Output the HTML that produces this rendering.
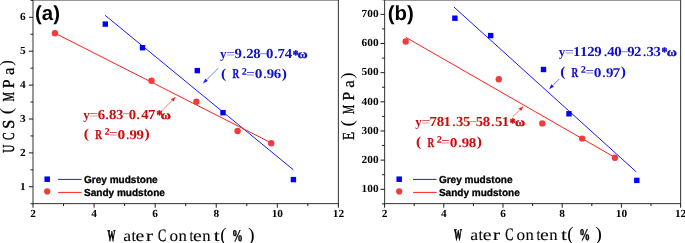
<!DOCTYPE html>
<html><head><meta charset="utf-8"><title>chart</title>
<style>html,body{margin:0;padding:0;background:#fff}svg{display:block}text{text-rendering:geometricPrecision}</style></head>
<body><svg width="685" height="243" viewBox="0 0 685 243">
<rect width="685" height="243" fill="#fff"/>
<rect x="33.00" y="0.00" width="305.40" height="203.60" fill="none" stroke="#444444" stroke-width="1.1"/>
<rect x="384.60" y="0.00" width="296.00" height="203.60" fill="none" stroke="#444444" stroke-width="1.1"/>
<line x1="33.00" y1="203.60" x2="33.00" y2="207.70" stroke="#1a1a1a" stroke-width="1.0" />
<text transform="matrix(1.0500 0 0 1 33.00 217.40)" font-family='"Liberation Serif", serif' font-size="10.8" font-weight="bold" fill="#000" text-anchor="middle" >2</text>
<line x1="63.54" y1="203.60" x2="63.54" y2="206.10" stroke="#1a1a1a" stroke-width="1.0" />
<line x1="94.08" y1="203.60" x2="94.08" y2="207.70" stroke="#1a1a1a" stroke-width="1.0" />
<text transform="matrix(1.0500 0 0 1 94.08 217.40)" font-family='"Liberation Serif", serif' font-size="10.8" font-weight="bold" fill="#000" text-anchor="middle" >4</text>
<line x1="124.62" y1="203.60" x2="124.62" y2="206.10" stroke="#1a1a1a" stroke-width="1.0" />
<line x1="155.16" y1="203.60" x2="155.16" y2="207.70" stroke="#1a1a1a" stroke-width="1.0" />
<text transform="matrix(1.0500 0 0 1 155.16 217.40)" font-family='"Liberation Serif", serif' font-size="10.8" font-weight="bold" fill="#000" text-anchor="middle" >6</text>
<line x1="185.70" y1="203.60" x2="185.70" y2="206.10" stroke="#1a1a1a" stroke-width="1.0" />
<line x1="216.24" y1="203.60" x2="216.24" y2="207.70" stroke="#1a1a1a" stroke-width="1.0" />
<text transform="matrix(1.0500 0 0 1 216.24 217.40)" font-family='"Liberation Serif", serif' font-size="10.8" font-weight="bold" fill="#000" text-anchor="middle" >8</text>
<line x1="246.78" y1="203.60" x2="246.78" y2="206.10" stroke="#1a1a1a" stroke-width="1.0" />
<line x1="277.32" y1="203.60" x2="277.32" y2="207.70" stroke="#1a1a1a" stroke-width="1.0" />
<text transform="matrix(1.0500 0 0 1 277.32 217.40)" font-family='"Liberation Serif", serif' font-size="10.8" font-weight="bold" fill="#000" text-anchor="middle" >10</text>
<line x1="307.86" y1="203.60" x2="307.86" y2="206.10" stroke="#1a1a1a" stroke-width="1.0" />
<line x1="338.40" y1="203.60" x2="338.40" y2="207.70" stroke="#1a1a1a" stroke-width="1.0" />
<text transform="matrix(1.0500 0 0 1 338.40 217.40)" font-family='"Liberation Serif", serif' font-size="10.8" font-weight="bold" fill="#000" text-anchor="middle" >12</text>
<line x1="384.60" y1="203.60" x2="384.60" y2="207.70" stroke="#1a1a1a" stroke-width="1.0" />
<text transform="matrix(1.0500 0 0 1 384.60 217.40)" font-family='"Liberation Serif", serif' font-size="10.8" font-weight="bold" fill="#000" text-anchor="middle" >2</text>
<line x1="414.20" y1="203.60" x2="414.20" y2="206.10" stroke="#1a1a1a" stroke-width="1.0" />
<line x1="443.80" y1="203.60" x2="443.80" y2="207.70" stroke="#1a1a1a" stroke-width="1.0" />
<text transform="matrix(1.0500 0 0 1 443.80 217.40)" font-family='"Liberation Serif", serif' font-size="10.8" font-weight="bold" fill="#000" text-anchor="middle" >4</text>
<line x1="473.40" y1="203.60" x2="473.40" y2="206.10" stroke="#1a1a1a" stroke-width="1.0" />
<line x1="503.00" y1="203.60" x2="503.00" y2="207.70" stroke="#1a1a1a" stroke-width="1.0" />
<text transform="matrix(1.0500 0 0 1 503.00 217.40)" font-family='"Liberation Serif", serif' font-size="10.8" font-weight="bold" fill="#000" text-anchor="middle" >6</text>
<line x1="532.60" y1="203.60" x2="532.60" y2="206.10" stroke="#1a1a1a" stroke-width="1.0" />
<line x1="562.20" y1="203.60" x2="562.20" y2="207.70" stroke="#1a1a1a" stroke-width="1.0" />
<text transform="matrix(1.0500 0 0 1 562.20 217.40)" font-family='"Liberation Serif", serif' font-size="10.8" font-weight="bold" fill="#000" text-anchor="middle" >8</text>
<line x1="591.80" y1="203.60" x2="591.80" y2="206.10" stroke="#1a1a1a" stroke-width="1.0" />
<line x1="621.40" y1="203.60" x2="621.40" y2="207.70" stroke="#1a1a1a" stroke-width="1.0" />
<text transform="matrix(1.0500 0 0 1 621.40 217.40)" font-family='"Liberation Serif", serif' font-size="10.8" font-weight="bold" fill="#000" text-anchor="middle" >10</text>
<line x1="651.00" y1="203.60" x2="651.00" y2="206.10" stroke="#1a1a1a" stroke-width="1.0" />
<line x1="680.60" y1="203.60" x2="680.60" y2="207.70" stroke="#1a1a1a" stroke-width="1.0" />
<text transform="matrix(1.0500 0 0 1 680.60 217.40)" font-family='"Liberation Serif", serif' font-size="10.8" font-weight="bold" fill="#000" text-anchor="middle" >12</text>
<line x1="30.50" y1="203.75" x2="33.00" y2="203.75" stroke="#1a1a1a" stroke-width="1.0" />
<line x1="28.90" y1="186.80" x2="33.00" y2="186.80" stroke="#1a1a1a" stroke-width="1.0" />
<text transform="matrix(1.0500 0 0 1 25.60 189.50)" font-family='"Liberation Serif", serif' font-size="10.8" font-weight="bold" fill="#000" text-anchor="end" >1</text>
<line x1="30.50" y1="169.85" x2="33.00" y2="169.85" stroke="#1a1a1a" stroke-width="1.0" />
<line x1="28.90" y1="152.90" x2="33.00" y2="152.90" stroke="#1a1a1a" stroke-width="1.0" />
<text transform="matrix(1.0500 0 0 1 25.60 155.60)" font-family='"Liberation Serif", serif' font-size="10.8" font-weight="bold" fill="#000" text-anchor="end" >2</text>
<line x1="30.50" y1="135.95" x2="33.00" y2="135.95" stroke="#1a1a1a" stroke-width="1.0" />
<line x1="28.90" y1="119.00" x2="33.00" y2="119.00" stroke="#1a1a1a" stroke-width="1.0" />
<text transform="matrix(1.0500 0 0 1 25.60 121.70)" font-family='"Liberation Serif", serif' font-size="10.8" font-weight="bold" fill="#000" text-anchor="end" >3</text>
<line x1="30.50" y1="102.05" x2="33.00" y2="102.05" stroke="#1a1a1a" stroke-width="1.0" />
<line x1="28.90" y1="85.10" x2="33.00" y2="85.10" stroke="#1a1a1a" stroke-width="1.0" />
<text transform="matrix(1.0500 0 0 1 25.60 87.80)" font-family='"Liberation Serif", serif' font-size="10.8" font-weight="bold" fill="#000" text-anchor="end" >4</text>
<line x1="30.50" y1="68.15" x2="33.00" y2="68.15" stroke="#1a1a1a" stroke-width="1.0" />
<line x1="28.90" y1="51.20" x2="33.00" y2="51.20" stroke="#1a1a1a" stroke-width="1.0" />
<text transform="matrix(1.0500 0 0 1 25.60 53.90)" font-family='"Liberation Serif", serif' font-size="10.8" font-weight="bold" fill="#000" text-anchor="end" >5</text>
<line x1="30.50" y1="34.25" x2="33.00" y2="34.25" stroke="#1a1a1a" stroke-width="1.0" />
<line x1="28.90" y1="17.30" x2="33.00" y2="17.30" stroke="#1a1a1a" stroke-width="1.0" />
<text transform="matrix(1.0500 0 0 1 25.60 20.00)" font-family='"Liberation Serif", serif' font-size="10.8" font-weight="bold" fill="#000" text-anchor="end" >6</text>
<line x1="30.50" y1="0.35" x2="33.00" y2="0.35" stroke="#1a1a1a" stroke-width="1.0" />
<line x1="382.10" y1="203.88" x2="384.60" y2="203.88" stroke="#1a1a1a" stroke-width="1.0" />
<line x1="380.50" y1="189.30" x2="384.60" y2="189.30" stroke="#1a1a1a" stroke-width="1.0" />
<text transform="matrix(1.0500 0 0 1 378.60 192.10)" font-family='"Liberation Serif", serif' font-size="10.8" font-weight="bold" fill="#000" text-anchor="end" >100</text>
<line x1="382.10" y1="174.72" x2="384.60" y2="174.72" stroke="#1a1a1a" stroke-width="1.0" />
<line x1="380.50" y1="160.14" x2="384.60" y2="160.14" stroke="#1a1a1a" stroke-width="1.0" />
<text transform="matrix(1.0500 0 0 1 378.60 162.94)" font-family='"Liberation Serif", serif' font-size="10.8" font-weight="bold" fill="#000" text-anchor="end" >200</text>
<line x1="382.10" y1="145.56" x2="384.60" y2="145.56" stroke="#1a1a1a" stroke-width="1.0" />
<line x1="380.50" y1="130.98" x2="384.60" y2="130.98" stroke="#1a1a1a" stroke-width="1.0" />
<text transform="matrix(1.0500 0 0 1 378.60 133.78)" font-family='"Liberation Serif", serif' font-size="10.8" font-weight="bold" fill="#000" text-anchor="end" >300</text>
<line x1="382.10" y1="116.41" x2="384.60" y2="116.41" stroke="#1a1a1a" stroke-width="1.0" />
<line x1="380.50" y1="101.83" x2="384.60" y2="101.83" stroke="#1a1a1a" stroke-width="1.0" />
<text transform="matrix(1.0500 0 0 1 378.60 104.63)" font-family='"Liberation Serif", serif' font-size="10.8" font-weight="bold" fill="#000" text-anchor="end" >400</text>
<line x1="382.10" y1="87.25" x2="384.60" y2="87.25" stroke="#1a1a1a" stroke-width="1.0" />
<line x1="380.50" y1="72.67" x2="384.60" y2="72.67" stroke="#1a1a1a" stroke-width="1.0" />
<text transform="matrix(1.0500 0 0 1 378.60 75.47)" font-family='"Liberation Serif", serif' font-size="10.8" font-weight="bold" fill="#000" text-anchor="end" >500</text>
<line x1="382.10" y1="58.09" x2="384.60" y2="58.09" stroke="#1a1a1a" stroke-width="1.0" />
<line x1="380.50" y1="43.51" x2="384.60" y2="43.51" stroke="#1a1a1a" stroke-width="1.0" />
<text transform="matrix(1.0500 0 0 1 378.60 46.31)" font-family='"Liberation Serif", serif' font-size="10.8" font-weight="bold" fill="#000" text-anchor="end" >600</text>
<line x1="382.10" y1="28.93" x2="384.60" y2="28.93" stroke="#1a1a1a" stroke-width="1.0" />
<line x1="380.50" y1="14.35" x2="384.60" y2="14.35" stroke="#1a1a1a" stroke-width="1.0" />
<text transform="matrix(1.0500 0 0 1 378.60 17.15)" font-family='"Liberation Serif", serif' font-size="10.8" font-weight="bold" fill="#000" text-anchor="end" >700</text>
<line x1="382.10" y1="-0.23" x2="384.60" y2="-0.23" stroke="#1a1a1a" stroke-width="1.0" />
<line x1="105.10" y1="15.30" x2="293.40" y2="169.80" stroke="#1a1aff" stroke-width="1.0" />
<line x1="55.00" y1="33.20" x2="271.00" y2="142.80" stroke="#ff2020" stroke-width="1.0" />
<rect x="102.60" y="21.40" width="5.4" height="5.4" fill="#0000ff"/>
<rect x="139.80" y="45.00" width="5.4" height="5.4" fill="#0000ff"/>
<rect x="194.60" y="67.90" width="5.4" height="5.4" fill="#0000ff"/>
<rect x="220.30" y="110.00" width="5.4" height="5.4" fill="#0000ff"/>
<rect x="290.70" y="176.90" width="5.4" height="5.4" fill="#0000ff"/>
<circle cx="55.00" cy="33.30" r="3.2" fill="#f03c3c"/>
<circle cx="151.50" cy="80.70" r="3.2" fill="#f03c3c"/>
<circle cx="196.40" cy="101.80" r="3.2" fill="#f03c3c"/>
<circle cx="237.60" cy="131.00" r="3.2" fill="#f03c3c"/>
<circle cx="271.20" cy="143.20" r="3.2" fill="#f03c3c"/>
<line x1="454.00" y1="7.10" x2="636.20" y2="171.80" stroke="#1a1aff" stroke-width="1.0" />
<line x1="405.90" y1="37.40" x2="615.00" y2="157.50" stroke="#ff2020" stroke-width="1.0" />
<rect x="452.20" y="15.50" width="5.4" height="5.4" fill="#0000ff"/>
<rect x="488.00" y="32.90" width="5.4" height="5.4" fill="#0000ff"/>
<rect x="540.80" y="66.80" width="5.4" height="5.4" fill="#0000ff"/>
<rect x="566.30" y="111.10" width="5.4" height="5.4" fill="#0000ff"/>
<rect x="634.10" y="177.70" width="5.4" height="5.4" fill="#0000ff"/>
<circle cx="405.70" cy="41.50" r="3.2" fill="#f03c3c"/>
<circle cx="498.80" cy="79.20" r="3.2" fill="#f03c3c"/>
<circle cx="542.30" cy="123.40" r="3.2" fill="#f03c3c"/>
<circle cx="582.20" cy="138.60" r="3.2" fill="#f03c3c"/>
<circle cx="614.90" cy="157.70" r="3.2" fill="#f03c3c"/>
<line x1="218.40" y1="68.10" x2="206.59" y2="79.83" stroke="#1a1aff" stroke-width="0.6" />
<polygon points="202.90,83.50 205.36,78.59 207.82,81.08" fill="#1a1aff"/>
<line x1="161.00" y1="111.50" x2="172.11" y2="100.46" stroke="#ff2020" stroke-width="0.6" />
<polygon points="175.80,96.80 173.34,101.71 170.88,99.22" fill="#ff2020"/>
<line x1="559.30" y1="78.90" x2="552.66" y2="85.61" stroke="#1a1aff" stroke-width="0.6" />
<polygon points="549.00,89.30 551.42,84.37 553.90,86.84" fill="#1a1aff"/>
<line x1="512.70" y1="116.80" x2="519.87" y2="109.83" stroke="#ff2020" stroke-width="0.6" />
<polygon points="523.60,106.20 521.09,111.08 518.65,108.57" fill="#ff2020"/>
<rect x="44.45" y="176.45" width="5.5" height="5.5" fill="#0000ff"/>
<circle cx="47.20" cy="191.40" r="3.1" fill="#f03c3c"/>
<line x1="58.10" y1="179.40" x2="81.70" y2="179.40" stroke="#1a1aff" stroke-width="1.0" />
<line x1="58.10" y1="192.40" x2="81.70" y2="192.40" stroke="#ff2020" stroke-width="1.0" />
<text transform="matrix(0.9850 0 0 1 84.00 182.60)" font-family='"Liberation Sans", sans-serif' font-size="10.2" font-weight="bold" fill="#000" text-anchor="start" stroke="#000" stroke-width="0.3">Grey mudstone</text>
<text transform="matrix(0.9850 0 0 1 84.00 195.60)" font-family='"Liberation Sans", sans-serif' font-size="10.2" font-weight="bold" fill="#000" text-anchor="start" stroke="#000" stroke-width="0.3">Sandy mudstone</text>
<rect x="396.45" y="176.45" width="5.5" height="5.5" fill="#0000ff"/>
<circle cx="399.20" cy="191.40" r="3.1" fill="#f03c3c"/>
<line x1="413.00" y1="179.40" x2="436.60" y2="179.40" stroke="#1a1aff" stroke-width="1.0" />
<line x1="413.00" y1="192.40" x2="436.60" y2="192.40" stroke="#ff2020" stroke-width="1.0" />
<text transform="matrix(0.9850 0 0 1 438.90 182.60)" font-family='"Liberation Sans", sans-serif' font-size="10.2" font-weight="bold" fill="#000" text-anchor="start" stroke="#000" stroke-width="0.3">Grey mudstone</text>
<text transform="matrix(0.9850 0 0 1 438.90 195.60)" font-family='"Liberation Sans", sans-serif' font-size="10.2" font-weight="bold" fill="#000" text-anchor="start" stroke="#000" stroke-width="0.3">Sandy mudstone</text>
<text transform="matrix(1.0000 0 0 1 35.00 19.90)" font-family='"Liberation Sans", sans-serif' font-size="20.4" font-weight="bold" fill="#000" text-anchor="start" >(a)</text>
<text transform="matrix(1.0000 0 0 1 387.80 19.90)" font-family='"Liberation Sans", sans-serif' font-size="20.4" font-weight="bold" fill="#000" text-anchor="start" >(b)</text>
<g aria-label="y=9.28-0.74*ω"><text transform="matrix(1.0000 0 0 1.0000 219.97 58.20)" font-family='"Liberation Serif", serif' font-size="13.0" font-weight="bold" fill="#1010c8" >y</text><text transform="matrix(1.1987 0 0 1.0000 226.15 58.20)" font-family='"Liberation Serif", serif' font-size="13.0" font-weight="normal" fill="#1010c8" fill-opacity="0.85">=</text><text transform="matrix(1.0700 0 0 1.0000 234.57 58.20)" font-family='"Liberation Serif", serif' font-size="13.8" font-weight="bold" fill="#1010c8" >9</text><text transform="matrix(1.0700 0 0 1.0000 242.65 58.20)" font-family='"Liberation Serif", serif' font-size="12.0" font-weight="bold" fill="#1010c8" >.</text><text transform="matrix(1.0700 0 0 1.0000 246.22 58.20)" font-family='"Liberation Serif", serif' font-size="13.8" font-weight="bold" fill="#1010c8" >2</text><text transform="matrix(1.0700 0 0 1.0000 253.21 58.20)" font-family='"Liberation Serif", serif' font-size="13.8" font-weight="bold" fill="#1010c8" >8</text><text transform="matrix(1.8952 0 0 0.7200 259.19 56.00)" font-family='"Liberation Serif", serif' font-size="13.0" font-weight="normal" fill="#1010c8" fill-opacity="0.8">-</text><text transform="matrix(1.0700 0 0 1.0000 266.01 58.20)" font-family='"Liberation Serif", serif' font-size="13.8" font-weight="bold" fill="#1010c8" >0</text><text transform="matrix(1.0700 0 0 1.0000 274.14 58.20)" font-family='"Liberation Serif", serif' font-size="12.0" font-weight="bold" fill="#1010c8" >.</text><text transform="matrix(1.0700 0 0 1.0000 277.47 58.20)" font-family='"Liberation Serif", serif' font-size="13.8" font-weight="bold" fill="#1010c8" >7</text><text transform="matrix(1.0700 0 0 1.0000 284.74 58.20)" font-family='"Liberation Serif", serif' font-size="13.8" font-weight="bold" fill="#1010c8" >4</text><text transform="matrix(0.9023 0 0 1.0000 292.87 58.80)" font-family='"Liberation Serif", serif' font-size="13.0" font-weight="bold" fill="#1010c8" stroke="#1010c8" stroke-width="0.5">*</text><text transform="matrix(1.1532 0 0 1.0000 297.44 58.20)" font-family='"Liberation Serif", serif' font-size="12.0" font-weight="bold" fill="#1010c8" stroke="#1010c8" stroke-width="0.4">ω</text></g>
<g aria-label="( R²=0.96)"><text transform="matrix(1.1368 0 0 1.0000 221.12 77.60)" font-family='"Liberation Serif", serif' font-size="13.7" font-weight="bold" fill="#1010c8" >(</text><text font-size="1" fill="none"> </text><text transform="matrix(0.6748 0 0 1.0000 232.44 78.30)" font-family='"Liberation Serif", serif' font-size="13.7" font-weight="bold" fill="#1010c8" stroke="#1010c8" stroke-width="0.3">R</text><text transform="matrix(1.0402 0 0 1.0000 241.73 78.80)" font-family='"Liberation Serif", serif' font-size="16.6" font-weight="bold" fill="#1010c8" >²</text><text transform="matrix(1.1572 0 0 1.0000 246.35 77.60)" font-family='"Liberation Serif", serif' font-size="13.0" font-weight="normal" fill="#1010c8" >=</text><text transform="matrix(1.1445 0 0 1.0000 254.72 78.30)" font-family='"Liberation Serif", serif' font-size="13.4" font-weight="bold" fill="#1010c8" >0</text><text transform="matrix(1.0192 0 0 1.0000 263.48 78.30)" font-family='"Liberation Serif", serif' font-size="11.5" font-weight="bold" fill="#1010c8" >.</text><text transform="matrix(1.1112 0 0 1.0000 266.79 78.30)" font-family='"Liberation Serif", serif' font-size="13.4" font-weight="bold" fill="#1010c8" >9</text><text transform="matrix(1.1112 0 0 1.0000 273.69 78.30)" font-family='"Liberation Serif", serif' font-size="13.4" font-weight="bold" fill="#1010c8" >6</text><text transform="matrix(1.1368 0 0 1.0000 281.70 77.60)" font-family='"Liberation Serif", serif' font-size="13.7" font-weight="bold" fill="#1010c8" >)</text></g>
<g aria-label="y=6.83-0.47*ω"><text transform="matrix(1.0000 0 0 1.0000 83.17 118.60)" font-family='"Liberation Serif", serif' font-size="13.0" font-weight="bold" fill="#cc0a0a" >y</text><text transform="matrix(1.1987 0 0 1.0000 89.35 118.60)" font-family='"Liberation Serif", serif' font-size="13.0" font-weight="normal" fill="#cc0a0a" fill-opacity="0.85">=</text><text transform="matrix(1.0700 0 0 1.0000 97.67 118.60)" font-family='"Liberation Serif", serif' font-size="13.8" font-weight="bold" fill="#cc0a0a" >6</text><text transform="matrix(1.0700 0 0 1.0000 105.44 118.60)" font-family='"Liberation Serif", serif' font-size="12.0" font-weight="bold" fill="#cc0a0a" >.</text><text transform="matrix(1.0700 0 0 1.0000 109.01 118.60)" font-family='"Liberation Serif", serif' font-size="13.8" font-weight="bold" fill="#cc0a0a" >8</text><text transform="matrix(1.0700 0 0 1.0000 115.98 118.60)" font-family='"Liberation Serif", serif' font-size="13.8" font-weight="bold" fill="#cc0a0a" >3</text><text transform="matrix(1.8952 0 0 0.7200 121.99 116.40)" font-family='"Liberation Serif", serif' font-size="13.0" font-weight="normal" fill="#cc0a0a" fill-opacity="0.8">-</text><text transform="matrix(1.0700 0 0 1.0000 128.81 118.60)" font-family='"Liberation Serif", serif' font-size="13.8" font-weight="bold" fill="#cc0a0a" >0</text><text transform="matrix(1.0700 0 0 1.0000 136.55 118.60)" font-family='"Liberation Serif", serif' font-size="12.0" font-weight="bold" fill="#cc0a0a" >.</text><text transform="matrix(1.0700 0 0 1.0000 141.34 118.60)" font-family='"Liberation Serif", serif' font-size="13.8" font-weight="bold" fill="#cc0a0a" >4</text><text transform="matrix(1.0700 0 0 1.0000 148.07 118.60)" font-family='"Liberation Serif", serif' font-size="13.8" font-weight="bold" fill="#cc0a0a" >7</text><text transform="matrix(0.9023 0 0 1.0000 156.47 119.20)" font-family='"Liberation Serif", serif' font-size="13.0" font-weight="bold" fill="#cc0a0a" stroke="#cc0a0a" stroke-width="0.5">*</text><text transform="matrix(1.1532 0 0 1.0000 160.84 118.60)" font-family='"Liberation Serif", serif' font-size="12.0" font-weight="bold" fill="#cc0a0a" stroke="#cc0a0a" stroke-width="0.4">ω</text></g>
<g aria-label="( R²=0.99)"><text transform="matrix(1.1368 0 0 1.0000 83.82 138.00)" font-family='"Liberation Serif", serif' font-size="13.7" font-weight="bold" fill="#cc0a0a" >(</text><text font-size="1" fill="none"> </text><text transform="matrix(0.6748 0 0 1.0000 95.14 138.70)" font-family='"Liberation Serif", serif' font-size="13.7" font-weight="bold" fill="#cc0a0a" stroke="#cc0a0a" stroke-width="0.3">R</text><text transform="matrix(1.0402 0 0 1.0000 104.43 139.20)" font-family='"Liberation Serif", serif' font-size="16.6" font-weight="bold" fill="#cc0a0a" >²</text><text transform="matrix(1.1572 0 0 1.0000 109.05 138.00)" font-family='"Liberation Serif", serif' font-size="13.0" font-weight="normal" fill="#cc0a0a" >=</text><text transform="matrix(1.1445 0 0 1.0000 117.42 138.70)" font-family='"Liberation Serif", serif' font-size="13.4" font-weight="bold" fill="#cc0a0a" >0</text><text transform="matrix(1.0192 0 0 1.0000 126.18 138.70)" font-family='"Liberation Serif", serif' font-size="11.5" font-weight="bold" fill="#cc0a0a" >.</text><text transform="matrix(1.1112 0 0 1.0000 129.49 138.70)" font-family='"Liberation Serif", serif' font-size="13.4" font-weight="bold" fill="#cc0a0a" >9</text><text transform="matrix(1.1112 0 0 1.0000 136.49 138.70)" font-family='"Liberation Serif", serif' font-size="13.4" font-weight="bold" fill="#cc0a0a" >9</text><text transform="matrix(1.1368 0 0 1.0000 144.40 138.00)" font-family='"Liberation Serif", serif' font-size="13.7" font-weight="bold" fill="#cc0a0a" >)</text></g>
<g aria-label="y=1129.40-92.33*ω"><text transform="matrix(1.0000 0 0 1.0000 558.77 55.80)" font-family='"Liberation Serif", serif' font-size="13.0" font-weight="bold" fill="#1010c8" >y</text><text transform="matrix(1.1987 0 0 1.0000 564.95 55.80)" font-family='"Liberation Serif", serif' font-size="13.0" font-weight="normal" fill="#1010c8" fill-opacity="0.85">=</text><text transform="matrix(1.0700 0 0 1.0000 573.10 55.80)" font-family='"Liberation Serif", serif' font-size="13.8" font-weight="bold" fill="#1010c8" >1</text><text transform="matrix(1.0700 0 0 1.0000 580.10 55.80)" font-family='"Liberation Serif", serif' font-size="13.8" font-weight="bold" fill="#1010c8" >1</text><text transform="matrix(1.0700 0 0 1.0000 587.32 55.80)" font-family='"Liberation Serif", serif' font-size="13.8" font-weight="bold" fill="#1010c8" >2</text><text transform="matrix(1.0700 0 0 1.0000 594.37 55.80)" font-family='"Liberation Serif", serif' font-size="13.8" font-weight="bold" fill="#1010c8" >9</text><text transform="matrix(1.0700 0 0 1.0000 603.89 55.80)" font-family='"Liberation Serif", serif' font-size="12.0" font-weight="bold" fill="#1010c8" >.</text><text transform="matrix(1.0700 0 0 1.0000 607.34 55.80)" font-family='"Liberation Serif", serif' font-size="13.8" font-weight="bold" fill="#1010c8" >4</text><text transform="matrix(1.0700 0 0 1.0000 614.31 55.80)" font-family='"Liberation Serif", serif' font-size="13.8" font-weight="bold" fill="#1010c8" >0</text><text transform="matrix(1.8952 0 0 0.7200 620.29 53.60)" font-family='"Liberation Serif", serif' font-size="13.0" font-weight="normal" fill="#1010c8" fill-opacity="0.8">-</text><text transform="matrix(1.0700 0 0 1.0000 627.17 55.80)" font-family='"Liberation Serif", serif' font-size="13.8" font-weight="bold" fill="#1010c8" >9</text><text transform="matrix(1.0700 0 0 1.0000 634.12 55.80)" font-family='"Liberation Serif", serif' font-size="13.8" font-weight="bold" fill="#1010c8" >2</text><text transform="matrix(1.0700 0 0 1.0000 642.99 55.80)" font-family='"Liberation Serif", serif' font-size="12.0" font-weight="bold" fill="#1010c8" >.</text><text transform="matrix(1.0700 0 0 1.0000 646.38 55.80)" font-family='"Liberation Serif", serif' font-size="13.8" font-weight="bold" fill="#1010c8" >3</text><text transform="matrix(1.0700 0 0 1.0000 653.38 55.80)" font-family='"Liberation Serif", serif' font-size="13.8" font-weight="bold" fill="#1010c8" >3</text><text transform="matrix(0.9023 0 0 1.0000 661.57 56.40)" font-family='"Liberation Serif", serif' font-size="13.0" font-weight="bold" fill="#1010c8" stroke="#1010c8" stroke-width="0.5">*</text><text transform="matrix(1.1532 0 0 1.0000 666.74 55.80)" font-family='"Liberation Serif", serif' font-size="12.0" font-weight="bold" fill="#1010c8" stroke="#1010c8" stroke-width="0.4">ω</text></g>
<g aria-label="( R²=0.97)"><text transform="matrix(1.1368 0 0 1.0000 560.22 76.20)" font-family='"Liberation Serif", serif' font-size="13.7" font-weight="bold" fill="#1010c8" >(</text><text font-size="1" fill="none"> </text><text transform="matrix(0.6748 0 0 1.0000 571.54 76.90)" font-family='"Liberation Serif", serif' font-size="13.7" font-weight="bold" fill="#1010c8" stroke="#1010c8" stroke-width="0.3">R</text><text transform="matrix(1.0402 0 0 1.0000 580.83 77.40)" font-family='"Liberation Serif", serif' font-size="16.6" font-weight="bold" fill="#1010c8" >²</text><text transform="matrix(1.1572 0 0 1.0000 585.45 76.20)" font-family='"Liberation Serif", serif' font-size="13.0" font-weight="normal" fill="#1010c8" >=</text><text transform="matrix(1.1445 0 0 1.0000 593.82 76.90)" font-family='"Liberation Serif", serif' font-size="13.4" font-weight="bold" fill="#1010c8" >0</text><text transform="matrix(1.0192 0 0 1.0000 602.58 76.90)" font-family='"Liberation Serif", serif' font-size="11.5" font-weight="bold" fill="#1010c8" >.</text><text transform="matrix(1.1112 0 0 1.0000 605.89 76.90)" font-family='"Liberation Serif", serif' font-size="13.4" font-weight="bold" fill="#1010c8" >9</text><text transform="matrix(1.1592 0 0 1.0000 612.41 76.90)" font-family='"Liberation Serif", serif' font-size="13.4" font-weight="bold" fill="#1010c8" >7</text><text transform="matrix(1.1368 0 0 1.0000 620.80 76.20)" font-family='"Liberation Serif", serif' font-size="13.7" font-weight="bold" fill="#1010c8" >)</text></g>
<g aria-label="y=781.35-58.51*ω"><text transform="matrix(1.0000 0 0 1.0000 415.27 126.30)" font-family='"Liberation Serif", serif' font-size="13.0" font-weight="bold" fill="#cc0a0a" >y</text><text transform="matrix(1.1987 0 0 1.0000 421.45 126.30)" font-family='"Liberation Serif", serif' font-size="13.0" font-weight="normal" fill="#cc0a0a" fill-opacity="0.85">=</text><text transform="matrix(1.0700 0 0 1.0000 429.57 126.30)" font-family='"Liberation Serif", serif' font-size="13.8" font-weight="bold" fill="#cc0a0a" >7</text><text transform="matrix(1.0700 0 0 1.0000 436.81 126.30)" font-family='"Liberation Serif", serif' font-size="13.8" font-weight="bold" fill="#cc0a0a" >8</text><text transform="matrix(1.0700 0 0 1.0000 443.60 126.30)" font-family='"Liberation Serif", serif' font-size="13.8" font-weight="bold" fill="#cc0a0a" >1</text><text transform="matrix(1.0700 0 0 1.0000 452.30 126.30)" font-family='"Liberation Serif", serif' font-size="12.0" font-weight="bold" fill="#cc0a0a" >.</text><text transform="matrix(1.0700 0 0 1.0000 455.98 126.30)" font-family='"Liberation Serif", serif' font-size="13.8" font-weight="bold" fill="#cc0a0a" >3</text><text transform="matrix(1.0700 0 0 1.0000 462.98 126.30)" font-family='"Liberation Serif", serif' font-size="13.8" font-weight="bold" fill="#cc0a0a" >5</text><text transform="matrix(1.8952 0 0 0.7200 468.99 124.10)" font-family='"Liberation Serif", serif' font-size="13.0" font-weight="normal" fill="#cc0a0a" fill-opacity="0.8">-</text><text transform="matrix(1.0700 0 0 1.0000 475.78 126.30)" font-family='"Liberation Serif", serif' font-size="13.8" font-weight="bold" fill="#cc0a0a" >5</text><text transform="matrix(1.0700 0 0 1.0000 482.81 126.30)" font-family='"Liberation Serif", serif' font-size="13.8" font-weight="bold" fill="#cc0a0a" >8</text><text transform="matrix(1.0700 0 0 1.0000 491.30 126.30)" font-family='"Liberation Serif", serif' font-size="12.0" font-weight="bold" fill="#cc0a0a" >.</text><text transform="matrix(1.0700 0 0 1.0000 494.98 126.30)" font-family='"Liberation Serif", serif' font-size="13.8" font-weight="bold" fill="#cc0a0a" >5</text><text transform="matrix(1.0700 0 0 1.0000 501.80 126.30)" font-family='"Liberation Serif", serif' font-size="13.8" font-weight="bold" fill="#cc0a0a" >1</text><text transform="matrix(0.9023 0 0 1.0000 509.77 126.90)" font-family='"Liberation Serif", serif' font-size="13.0" font-weight="bold" fill="#cc0a0a" stroke="#cc0a0a" stroke-width="0.5">*</text><text transform="matrix(1.1532 0 0 1.0000 514.94 126.30)" font-family='"Liberation Serif", serif' font-size="12.0" font-weight="bold" fill="#cc0a0a" stroke="#cc0a0a" stroke-width="0.4">ω</text></g>
<g aria-label="( R²=0.98)"><text transform="matrix(1.1368 0 0 1.0000 416.12 146.20)" font-family='"Liberation Serif", serif' font-size="13.7" font-weight="bold" fill="#cc0a0a" >(</text><text font-size="1" fill="none"> </text><text transform="matrix(0.6748 0 0 1.0000 427.44 146.90)" font-family='"Liberation Serif", serif' font-size="13.7" font-weight="bold" fill="#cc0a0a" stroke="#cc0a0a" stroke-width="0.3">R</text><text transform="matrix(1.0402 0 0 1.0000 436.73 147.40)" font-family='"Liberation Serif", serif' font-size="16.6" font-weight="bold" fill="#cc0a0a" >²</text><text transform="matrix(1.1572 0 0 1.0000 441.35 146.20)" font-family='"Liberation Serif", serif' font-size="13.0" font-weight="normal" fill="#cc0a0a" >=</text><text transform="matrix(1.1445 0 0 1.0000 449.72 146.90)" font-family='"Liberation Serif", serif' font-size="13.4" font-weight="bold" fill="#cc0a0a" >0</text><text transform="matrix(1.0192 0 0 1.0000 458.48 146.90)" font-family='"Liberation Serif", serif' font-size="11.5" font-weight="bold" fill="#cc0a0a" >.</text><text transform="matrix(1.1112 0 0 1.0000 461.79 146.90)" font-family='"Liberation Serif", serif' font-size="13.4" font-weight="bold" fill="#cc0a0a" >9</text><text transform="matrix(1.1187 0 0 1.0000 468.70 146.90)" font-family='"Liberation Serif", serif' font-size="13.4" font-weight="bold" fill="#cc0a0a" >8</text><text transform="matrix(1.1368 0 0 1.0000 476.70 146.20)" font-family='"Liberation Serif", serif' font-size="13.7" font-weight="bold" fill="#cc0a0a" >)</text></g>
<g aria-label="WaterContent(%)"><text transform="matrix(0.4835 0 0 1.0000 107.54 240.60)" font-family='"Liberation Serif", serif' font-size="16.2" font-weight="bold" fill="#000" stroke="#000" stroke-width="0.7">W</text><text transform="matrix(1.0939 0 0 1.0000 123.13 240.60)" font-family='"Liberation Serif", serif' font-size="16.2" font-weight="normal" fill="#000" stroke="#000" stroke-width="0.06">a</text><text transform="matrix(0.9888 0 0 1.0000 131.49 240.60)" font-family='"Liberation Serif", serif' font-size="16.2" font-weight="normal" fill="#000" stroke="#000" stroke-width="0.06">t</text><text transform="matrix(1.2175 0 0 1.0000 135.58 240.60)" font-family='"Liberation Serif", serif' font-size="16.2" font-weight="normal" fill="#000" stroke="#000" stroke-width="0.06">e</text><text transform="matrix(1.3596 0 0 1.0000 145.71 240.60)" font-family='"Liberation Serif", serif' font-size="16.2" font-weight="normal" fill="#000" stroke="#000" stroke-width="0.06">r</text><text transform="matrix(0.7570 0 0 1.0800 158.05 240.60)" font-family='"Liberation Serif", serif' font-size="16.2" font-weight="normal" fill="#000" stroke="#000" stroke-width="0.3">C</text><text transform="matrix(1.0632 0 0 1.0000 169.39 240.60)" font-family='"Liberation Serif", serif' font-size="16.2" font-weight="normal" fill="#000" stroke="#000" stroke-width="0.06">o</text><text transform="matrix(1.0290 0 0 1.0000 178.47 240.60)" font-family='"Liberation Serif", serif' font-size="16.2" font-weight="normal" fill="#000" stroke="#000" stroke-width="0.06">n</text><text transform="matrix(0.8710 0 0 1.0000 189.51 240.60)" font-family='"Liberation Serif", serif' font-size="16.2" font-weight="normal" fill="#000" stroke="#000" stroke-width="0.06">t</text><text transform="matrix(1.2175 0 0 1.0000 192.98 240.60)" font-family='"Liberation Serif", serif' font-size="16.2" font-weight="normal" fill="#000" stroke="#000" stroke-width="0.06">e</text><text transform="matrix(1.0290 0 0 1.0000 202.17 240.60)" font-family='"Liberation Serif", serif' font-size="16.2" font-weight="normal" fill="#000" stroke="#000" stroke-width="0.06">n</text><text transform="matrix(1.3419 0 0 1.0000 213.84 240.60)" font-family='"Liberation Serif", serif' font-size="16.2" font-weight="normal" fill="#000" stroke="#000" stroke-width="0.06">t</text><text transform="matrix(1.1536 0 0 1.1800 220.23 240.60)" font-family='"Liberation Serif", serif' font-size="16.2" font-weight="normal" fill="#000" stroke="#000" stroke-width="0.0">(</text><text transform="matrix(0.6682 0 0 1.0000 232.04 240.60)" font-family='"Liberation Serif", serif' font-size="16.2" font-weight="bold" fill="#000" stroke="#000" stroke-width="0.45">%</text><text transform="matrix(1.2257 0 0 1.1800 248.11 240.60)" font-family='"Liberation Serif", serif' font-size="16.2" font-weight="normal" fill="#000" stroke="#000" stroke-width="0.0">)</text></g>
<g aria-label="WaterContent(%)"><text transform="matrix(0.4835 0 0 1.0000 454.04 240.10)" font-family='"Liberation Serif", serif' font-size="16.2" font-weight="bold" fill="#000" stroke="#000" stroke-width="0.7">W</text><text transform="matrix(1.0939 0 0 1.0000 470.23 240.10)" font-family='"Liberation Serif", serif' font-size="16.2" font-weight="normal" fill="#000" stroke="#000" stroke-width="0.06">a</text><text transform="matrix(0.9888 0 0 1.0000 478.59 240.10)" font-family='"Liberation Serif", serif' font-size="16.2" font-weight="normal" fill="#000" stroke="#000" stroke-width="0.06">t</text><text transform="matrix(1.2175 0 0 1.0000 482.68 240.10)" font-family='"Liberation Serif", serif' font-size="16.2" font-weight="normal" fill="#000" stroke="#000" stroke-width="0.06">e</text><text transform="matrix(1.3596 0 0 1.0000 492.81 240.10)" font-family='"Liberation Serif", serif' font-size="16.2" font-weight="normal" fill="#000" stroke="#000" stroke-width="0.06">r</text><text transform="matrix(0.7570 0 0 1.0800 505.15 240.10)" font-family='"Liberation Serif", serif' font-size="16.2" font-weight="normal" fill="#000" stroke="#000" stroke-width="0.3">C</text><text transform="matrix(1.0632 0 0 1.0000 516.49 240.10)" font-family='"Liberation Serif", serif' font-size="16.2" font-weight="normal" fill="#000" stroke="#000" stroke-width="0.06">o</text><text transform="matrix(1.0290 0 0 1.0000 525.57 240.10)" font-family='"Liberation Serif", serif' font-size="16.2" font-weight="normal" fill="#000" stroke="#000" stroke-width="0.06">n</text><text transform="matrix(0.8710 0 0 1.0000 536.61 240.10)" font-family='"Liberation Serif", serif' font-size="16.2" font-weight="normal" fill="#000" stroke="#000" stroke-width="0.06">t</text><text transform="matrix(1.2175 0 0 1.0000 540.08 240.10)" font-family='"Liberation Serif", serif' font-size="16.2" font-weight="normal" fill="#000" stroke="#000" stroke-width="0.06">e</text><text transform="matrix(1.0290 0 0 1.0000 549.27 240.10)" font-family='"Liberation Serif", serif' font-size="16.2" font-weight="normal" fill="#000" stroke="#000" stroke-width="0.06">n</text><text transform="matrix(1.3419 0 0 1.0000 560.94 240.10)" font-family='"Liberation Serif", serif' font-size="16.2" font-weight="normal" fill="#000" stroke="#000" stroke-width="0.06">t</text><text transform="matrix(1.1536 0 0 1.1800 567.33 240.10)" font-family='"Liberation Serif", serif' font-size="16.2" font-weight="normal" fill="#000" stroke="#000" stroke-width="0.0">(</text><text transform="matrix(0.6682 0 0 1.0000 579.14 240.10)" font-family='"Liberation Serif", serif' font-size="16.2" font-weight="bold" fill="#000" stroke="#000" stroke-width="0.45">%</text><text transform="matrix(1.2257 0 0 1.1800 595.21 240.10)" font-family='"Liberation Serif", serif' font-size="16.2" font-weight="normal" fill="#000" stroke="#000" stroke-width="0.0">)</text></g>
<g aria-label="UCS(MPa)"><text transform="matrix(0 -0.6695 1 0 13.60 152.84)" font-family='"Liberation Serif", serif' font-size="16.8" font-weight="normal" fill="#000" stroke="#000" stroke-width="0.4">U</text><text transform="matrix(0 -0.6674 1 0 13.60 140.06)" font-family='"Liberation Serif", serif' font-size="16.8" font-weight="normal" fill="#000" stroke="#000" stroke-width="0.45">C</text><text transform="matrix(0 -0.9752 1 0 13.60 128.70)" font-family='"Liberation Serif", serif' font-size="16.8" font-weight="normal" fill="#000" stroke="#000" stroke-width="0.4">S</text><text transform="matrix(0 -1.1061 1 0 12.40 114.16)" font-family='"Liberation Serif", serif' font-size="17.6" font-weight="normal" fill="#000" >(</text><text transform="matrix(0 -0.6303 1 0 13.60 101.61)" font-family='"Liberation Serif", serif' font-size="16.8" font-weight="normal" fill="#000" stroke="#000" stroke-width="0.4">M</text><text transform="matrix(0 -0.9405 1 0 13.60 88.26)" font-family='"Liberation Serif", serif' font-size="16.8" font-weight="normal" fill="#000" stroke="#000" stroke-width="0.35">P</text><text transform="matrix(0 -1.0021 1 0 13.60 75.09)" font-family='"Liberation Serif", serif' font-size="16.8" font-weight="normal" fill="#000" stroke="#000" stroke-width="0.2">a</text><text transform="matrix(0 -0.9513 1 0 12.40 65.64)" font-family='"Liberation Serif", serif' font-size="17.6" font-weight="normal" fill="#000" >)</text></g>
<g aria-label="E(MPa)"><text transform="matrix(0 -0.7829 1 0 354.30 140.08)" font-family='"Liberation Serif", serif' font-size="16.8" font-weight="normal" fill="#000" stroke="#000" stroke-width="0.35">E</text><text transform="matrix(0 -1.0840 1 0 353.10 126.44)" font-family='"Liberation Serif", serif' font-size="17.6" font-weight="normal" fill="#000" >(</text><text transform="matrix(0 -0.6088 1 0 354.30 113.89)" font-family='"Liberation Serif", serif' font-size="16.8" font-weight="normal" fill="#000" stroke="#000" stroke-width="0.4">M</text><text transform="matrix(0 -0.9283 1 0 354.30 100.45)" font-family='"Liberation Serif", serif' font-size="16.8" font-weight="normal" fill="#000" stroke="#000" stroke-width="0.35">P</text><text transform="matrix(0 -1.0096 1 0 354.30 87.70)" font-family='"Liberation Serif", serif' font-size="16.8" font-weight="normal" fill="#000" stroke="#000" stroke-width="0.2">a</text><text transform="matrix(0 -1.1061 1 0 353.10 78.83)" font-family='"Liberation Serif", serif' font-size="17.6" font-weight="normal" fill="#000" >)</text></g>
</svg></body></html>
